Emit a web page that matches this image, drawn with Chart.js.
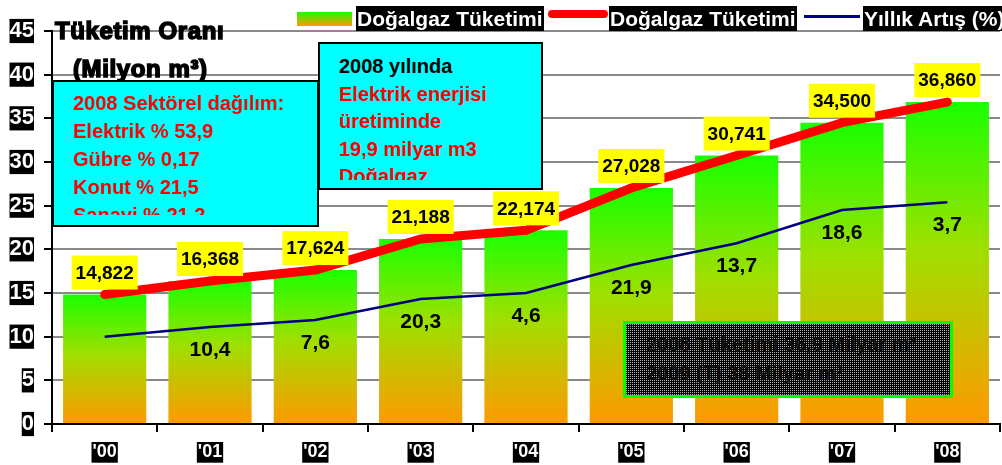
<!DOCTYPE html>
<html lang="tr">
<head>
<meta charset="utf-8">
<script src="https://cdn.jsdelivr.net/npm/chart.js@4.4.0/dist/chart.umd.min.js"></script>
<style>
    html, body { margin: 0; padding: 0; background: #fff; }
    #kap { position: relative; width: 1002px; height: 465px; font-family: "Liberation Sans", Arial, sans-serif; font-weight: bold; }
    #grafik { position: absolute; left: 0; top: 0; }
    .ust { position: absolute; white-space: nowrap; }
    .lgYazi { top: 6px; height: 25px; line-height: 25px; font-size: 21px; background: #000; color: #fff; padding: 0 1px; }
    .baslik { color: #000; font-size: 24px; letter-spacing: 0.6px; -webkit-text-stroke: 1.6px #000; }
    .kutu { position: absolute; box-sizing: border-box; background: #00ffff; border: 2px solid #000; }
    .kutu .ic { position: absolute; left: 0; top: 0; right: 0; overflow: hidden; font-size: 20px; color: #ff0000; }
    #koyu { position: absolute; left: 623px; top: 321px; width: 330px; height: 77px; box-sizing: border-box;
            border: 3px solid #00ff00; background-color: #000;
            background-image: linear-gradient(90deg, transparent 1px, #000 1px), linear-gradient(#b4b4b4 1px, #000 1px);
            background-size: 2px 2px, 2px 2px;
            color: #0c0c0c; font-size: 20px; line-height: 29px; padding: 6px 0 0 20px; }
</style>
</head>
<body>
<div id="kap">
    <canvas id="grafik" width="1002" height="465"></canvas>

    <!-- lejant -->
    <div class="ust" style="left:297px; top:12px; width:55px; height:14px; background:linear-gradient(#1aff00, #ff9900);"></div>
    <div class="ust lgYazi" style="left:356px;">Doğalgaz Tüketimi</div>
    <div class="ust" style="left:548px; top:10px; width:60px; height:8px; border-radius:4px; background:#ff0000;"></div>
    <div class="ust lgYazi" style="left:609px;">Doğalgaz Tüketimi</div>
    <div class="ust" style="left:804px; top:15px; width:56px; height:3px; background:#000080;"></div>
    <div class="ust lgYazi" style="left:863px;">Yıllık Artış (%)</div>

    <!-- başlık -->
    <div class="ust baslik" style="left:55px; top:17px;">Tüketim Oranı</div>
    <div class="ust baslik" style="left:73px; top:55px;">(Milyon m³)</div>

    <!-- açıklama kutuları -->
    <div class="kutu" style="left:52px; top:80px; width:267px; height:147px;">
        <div class="ic" style="height:133px; padding:7px 0 0 19px; box-sizing:border-box; line-height:28px;">
            2008 Sektörel dağılım:<br>
            Elektrik % 53,9<br>
            Gübre % 0,17<br>
            Konut % 21,5<br>
            Sanayi % 21,2
        </div>
    </div>
    <div class="kutu" style="left:318px; top:42px; width:225px; height:148px;">
        <div class="ic" style="height:136px; padding:9px 0 0 19px; box-sizing:border-box; line-height:27.6px;">
            <span style="color:#000;">2008 yılında</span><br>
            Elektrik enerjisi<br>
            üretiminde<br>
            19,9 milyar m3<br>
            Doğalgaz
        </div>
    </div>
    <div id="koyu">2008 Tüketimi 36,9 Milyar m³<br>2009 (T) 38 Milyar m³</div>
</div>

<script>
// === Veriler ===
const yillar = ["'00", "'01", "'02", "'03", "'04", "'05", "'06", "'07", "'08"];
const tuketim = [14.822, 16.368, 17.624, 21.188, 22.174, 27.028, 30.741, 34.5, 36.86];
const artisCizgi = [10.0, 11.1, 11.9, 14.3, 15.0, 18.2, 20.7, 24.5, 25.4];
const artisEtiket = ["", "10,4", "7,6", "20,3", "4,6", "21,9", "13,7", "18,6", "3,7"];
const yEksenDegerleri = [0, 5, 10, 15, 20, 25, 30, 35, 40, 45];

// === Etiketler (sarı kutular ve mavi çizgi değerleri) ===
const etiketEklentisi = {
    id: 'etiketler',
    afterDatasetsDraw(chart) {
        const ctx = chart.ctx;
        const kirmizi = chart.getDatasetMeta(1).data;
        const mavi = chart.getDatasetMeta(2).data;
        ctx.save();
        ctx.textAlign = 'center';
        ctx.textBaseline = 'middle';

        ctx.font = 'bold 19px "Liberation Sans"';
        kirmizi.forEach((p, i) => {
            const yazi = tuketim[i].toFixed(3).replace('.', ',');
            const w = ctx.measureText(yazi).width + 8;
            const h = 34;
            const cy = p.y - 22;
            ctx.fillStyle = '#ffff00';
            ctx.fillRect(p.x - w / 2, cy - h / 2, w, h);
            ctx.fillStyle = '#000';
            ctx.fillText(yazi, p.x, cy + 1);
        });

        ctx.font = 'bold 21px "Liberation Sans"';
        ctx.fillStyle = '#000';
        mavi.forEach((p, i) => {
            if (!artisEtiket[i]) return;
            ctx.fillText(artisEtiket[i], p.x, p.y + 23);
        });
        ctx.restore();
    }
};

function cubukRengi(c) {
    const chart = c.chart;
    if (!chart.chartArea || c.type !== 'data') return '#55ee00';
    const y = chart.scales.y;
    const ust = y.getPixelForValue(tuketim[c.dataIndex]);
    const alt = y.getPixelForValue(0);
    const g = chart.ctx.createLinearGradient(0, ust, 0, alt);
    g.addColorStop(0, '#1aff00');
    g.addColorStop(0.45, '#9ee000');
    g.addColorStop(1, '#ff9900');
    return g;
}

const ctx = document.getElementById('grafik').getContext('2d');
const grafik = new Chart(ctx, {
    type: 'bar',
    data: {
        labels: yillar,
        datasets: [{
            label: 'Doğalgaz Tüketimi',
            data: tuketim,
            backgroundColor: cubukRengi,
            barPercentage: 0.79,
            categoryPercentage: 1,
            order: 2
        }, {
            type: 'line',
            label: 'Doğalgaz Tüketimi',
            data: tuketim,
            borderColor: '#ff0000',
            borderWidth: 9,
            borderCapStyle: 'round',
            borderJoinStyle: 'round',
            pointRadius: 0,
            tension: 0,
            order: 0
        }, {
            type: 'line',
            label: 'Yıllık Artış (%)',
            data: artisCizgi,
            borderColor: '#000080',
            borderWidth: 2.5,
            pointRadius: 0,
            tension: 0,
            order: 1
        }]
    },
    plugins: [etiketEklentisi],
    options: {
        responsive: false,
        animation: false,
        layout: { padding: { left: 0, right: 2, top: 31, bottom: 0 } },
        plugins: {
            legend: { display: false },
            title: { display: false },
            tooltip: { enabled: false }
        },
        scales: {
            x: {
                afterFit: (s) => { s.height = 41; },
                grid: { drawOnChartArea: false, color: '#000', lineWidth: 2, tickLength: 8, offset: true },
                border: { color: '#000', width: 2 },
                ticks: {
                    color: '#fff',
                    font: { family: 'Liberation Sans', weight: 'bold', size: 18, lineHeight: 1.15 },
                    showLabelBackdrop: true,
                    backdropColor: '#000',
                    backdropPadding: { top: 0, bottom: 0, left: 1, right: 1 },
                    padding: 10,
                    maxRotation: 0
                }
            },
            y: {
                min: 0,
                max: 45,
                afterFit: (s) => { s.width = 52; },
                afterBuildTicks: (s) => { s.ticks = yEksenDegerleri.map(v => ({ value: v })); },
                grid: { color: '#8a8a8a', lineWidth: 2, tickColor: '#000', tickLength: 8 },
                border: { color: '#000', width: 2 },
                ticks: {
                    color: '#fff',
                    font: { family: 'Liberation Sans', weight: 'bold', size: 22, lineHeight: 1.1 },
                    showLabelBackdrop: true,
                    backdropColor: '#000',
                    backdropPadding: 0,
                    padding: 10
                }
            }
        }
    }
});
</script>
</body>
</html>
